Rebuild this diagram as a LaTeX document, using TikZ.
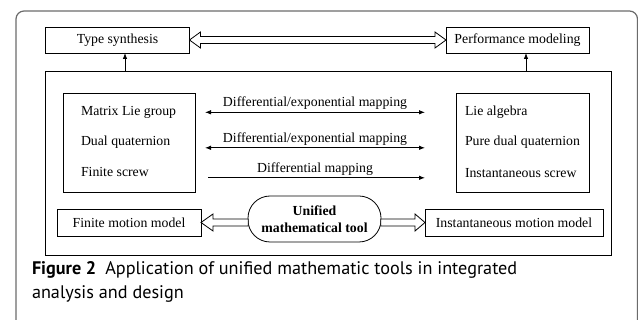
\documentclass[tikz,border=0pt]{standalone}
\usepackage{fontspec}
\setmainfont{Liberation Serif}
\newfontfamily\capfont{PT Sans}
\usetikzlibrary{arrows.meta,calc}
\begin{document}
\begin{tikzpicture}[x=1pt,y=-1pt,
  every node/.style={inner sep=0pt,outer sep=0pt,font=\fontsize{13.8}{16}\selectfont},
  box/.style={draw=black,line width=0.8pt,minimum height=26pt,anchor=center},
  thin/.style={line width=0.8pt},
  tip/.style={-{Latex[length=6pt,width=4.5pt]}},
  both/.style={{Latex[length=6pt,width=4.5pt]}-{Latex[length=6pt,width=4.5pt]}},
  hollow/.style={draw=black,fill=white,line width=0.8pt,line join=miter}]
\useasboundingbox (0,0) rectangle (638,320);
% outer frame
\draw[draw=black!58,line width=1.2pt,rounded corners=8pt] (16,322) -- (16,11) -- (637.5,11) -- (637.5,322);
% top boxes
\node[box,minimum width=144pt] (ts) at (117.5,40) {Type synthesis};
\node[box,minimum width=143pt] (pm) at (517.5,40) {Performance modeling};
% inner frame
\node[box,minimum width=566pt,minimum height=184pt] (inner) at (328,163) {};
% left/right boxes
\node[box,minimum width=132pt,minimum height=99pt] (lb) at (129,142.5) {};
\node[box,minimum width=133pt,minimum height=99pt] (rb) at (522.5,142.5) {};
\node[anchor=west] (l1) at (81,112) {Matrix Lie group};
\node[anchor=west] (l2) at (81,142) {Dual quaternion};
\node[anchor=west] (l3) at (81,172) {Finite screw};
\node[anchor=west] (r1) at (465,112) {Lie algebra};
\node[anchor=west] (r2) at (465,142.5) {Pure dual quaternion};
\node[anchor=west] (r3) at (465,173) {Instantaneous screw};
% bottom row
\node[box,minimum width=144pt,minimum height=27pt] (fm) at (129,222.5) {Finite motion model};
\node[box,minimum width=178pt,minimum height=27pt] (im) at (514,222.5) {Instantaneous motion model};
\node[box,minimum width=133pt,minimum height=46pt,rounded corners=22pt,align=center,
  font=\fontsize{13.8}{17.5}\selectfont\bfseries] (ut) at (314.5,219) {Unified\\mathematical tool};
% thin mapping arrows
\coordinate (a1l) at (205,112.3); \coordinate (a1r) at (425,112.3);
\coordinate (a2l) at (205,147.8); \coordinate (a2r) at (425,147.8);
\coordinate (a3l) at (208,177.8); \coordinate (a3r) at (425,177.8);
\draw[thin,both] (a1l) -- (a1r);
\draw[thin,both] (a2l) -- (a2r);
\draw[thin,tip] (a3l) -- (a3r);
\node (m1) at (315,103) {Differential/exponential mapping};
\node (m2) at (315,139) {Differential/exponential mapping};
\node (m3) at (315,169) {Differential mapping};
% small vertical arrows
\draw[thin,tip] ($(ts.south|-inner.north)+(7.5,0)$) -- ($(ts.south)+(7.5,0)$);
\draw[thin,tip] ($(pm.south|-inner.north)+(8.5,0)$) -- ($(pm.south)+(8.5,0)$);
% hollow double arrow on top
\draw[hollow] (ts.east) -- ++(11,-8) -- ++(0,4.5) -- ($(pm.west)+(-11,-3.5)$) -- ++(0,-4.5)
  -- (pm.west) -- ++(-11,8) -- ++(0,-4.5) -- ($(ts.east)+(11,3.5)$) -- ++(0,4.5) -- cycle;
% hollow arrows at bottom
\draw[hollow] (fm.east) -- ++(12,-8.5) -- ++(0,5) -- ($(ut.west|-fm.east)+(0.3,-3.5)$) -- ++(0,7)
  -- ($(fm.east)+(12,3.5)$) -- ++(0,5) -- cycle;
\draw[hollow] (im.west) -- ++(-10,-8.5) -- ++(0,5) -- ($(ut.east|-im.west)+(-0.3,-3.5)$) -- ++(0,7)
  -- ($(im.west)+(-10,3.5)$) -- ++(0,5) -- cycle;
% caption
\node[anchor=base west,font=\capfont\fontsize{18.2}{24}\selectfont] (cap1) at (32,275)
  {\textbf{Figure 2}\hspace{0.5em}Application of unified mathematic tools in integrated};
\node[anchor=base west,font=\capfont\fontsize{18.2}{24}\selectfont] (cap2) at (32,299)
  {analysis and design};
\end{tikzpicture}
\end{document}
